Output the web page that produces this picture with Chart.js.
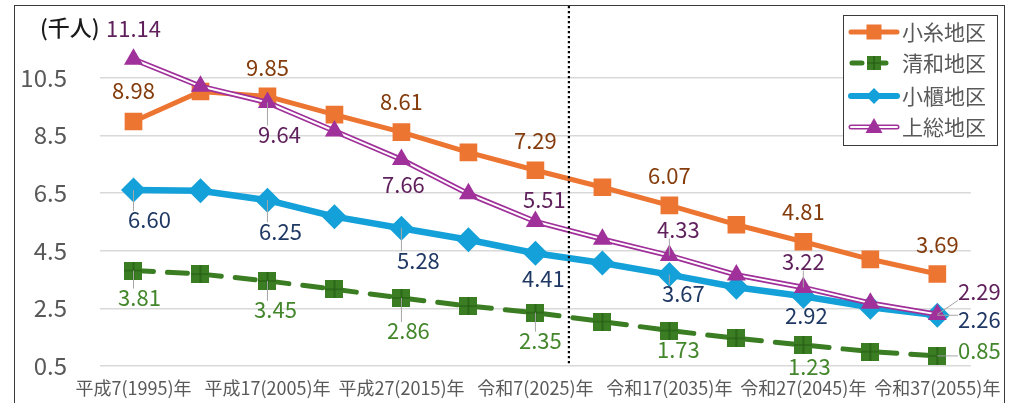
<!DOCTYPE html>
<html><head><meta charset="utf-8">
<script src="https://cdn.jsdelivr.net/npm/chart.js@4/dist/chart.umd.min.js"></script>
<style>
html,body{margin:0;padding:0;background:#fff;overflow:hidden}
#wrap{position:absolute;left:0;top:0;width:1013px;height:403px}
</style></head><body>
<div id="wrap"><canvas id="c" width="1013" height="403"></canvas></div>
<script>
// ---- data ----
const categories = ['平成7(1995)年','平成12(2000)年','平成17(2005)年','平成22(2010)年','平成27(2015)年','令和2(2020)年','令和7(2025)年','令和12(2030)年','令和17(2035)年','令和22(2040)年','令和27(2045)年','令和32(2050)年','令和37(2055)年'];
const seriesNames = ['小糸地区','清和地区','小櫃地区','上総地区'];
const koito  = [8.98, 10.02, 9.85, 9.22, 8.61, 7.91, 7.29, 6.70, 6.07, 5.40, 4.81, 4.20, 3.69];
const seiwa  = [3.81, 3.69, 3.45, 3.16, 2.86, 2.58, 2.35, 2.04, 1.73, 1.46, 1.23, 1.00, 0.85];
const obitsu = [6.60, 6.58, 6.25, 5.68, 5.28, 4.88, 4.41, 4.07, 3.67, 3.23, 2.92, 2.54, 2.26];
const kazusa = [11.14, 10.20, 9.64, 8.65, 7.66, 6.47, 5.51, 4.90, 4.33, 3.66, 3.22, 2.68, 2.29];
const yTicks = [0.5, 2.5, 4.5, 6.5, 8.5, 10.5];
const labelledIdx = [0, 2, 4, 6, 8, 10, 12];
const unitLabel = '(千人)';

// ---- styles ----
const FONT = '"Noto Sans CJK JP", "Noto Sans", sans-serif';
const ORANGE = '#ED7532', GREEN = '#3A7D22', BLUE = '#14A0D8', PURPLE = '#A0309A';
Chart.defaults.font.family = FONT;

function makeGreenSquare(s){
  const c = document.createElement('canvas'); c.width = s; c.height = s;
  const g = c.getContext('2d');
  g.fillStyle = GREEN; g.fillRect(0,0,s,s);
  g.strokeStyle = '#255A14'; g.lineWidth = 1.2;
  g.beginPath(); g.moveTo(s/2,0); g.lineTo(s/2,s); g.moveTo(0,s/2); g.lineTo(s,s/2); g.stroke();
  return c;
}
const greenSq = makeGreenSquare(18);
const greenSqSmall = makeGreenSquare(14);

// label layout (offsets from point, px) — styling only
const labelStyles = [
  {data: koito,  color:'#843C0C', offsets:[[0,-31],[0,-29],[0,-31],[0,-30],[0,-30],[0,-30],[0,-29]], leaders:[0,0,0,0,0,0,0]},
  {data: seiwa,  color:'#43862B', offsets:[[6,27],[8,29],[7,33],[5,28],[9,19],[6,22],[42,-5]],       leaders:[1,1,1,1,0,0,1]},
  {data: obitsu, color:'#1F3864', offsets:[[16,30],[13,31],[17,32],[8,25],[14,19],[3,19],[42,4]],    leaders:[1,1,1,0,1,0,1]},
  {data: kazusa, color:'#5E1F5B', offsets:[[0,-31],[12,32],[2,25],[9,-22],[9,-26],[0,-26],[42,-23]], leaders:[0,1,0,0,1,1,1]},
];

const plugin = {
  id: 'deco',
  beforeDraw(chart){
    const ctx = chart.ctx;
    ctx.save();
    ctx.fillStyle = '#fff'; ctx.fillRect(0,0,chart.width,chart.height);
    ctx.strokeStyle = '#3a3a3a'; ctx.lineWidth = 1;
    ctx.strokeRect(14.5, 5.5, 990, 420);
    ctx.restore();
  },
  afterDatasetsDraw(chart){
    const ctx = chart.ctx, xs = chart.scales.x, ys = chart.scales.y;
    // dotted divider between 2025 and 2030
    const xd = (xs.getPixelForValue(6) + xs.getPixelForValue(7)) / 2;
    ctx.save();
    ctx.strokeStyle = '#000'; ctx.lineWidth = 2.2; ctx.setLineDash([2.2, 2.8]);
    ctx.beginPath(); ctx.moveTo(xd, 6); ctx.lineTo(xd, chart.chartArea.bottom - 2); ctx.stroke();
    ctx.restore();
    // data labels
    ctx.save();
    ctx.font = '22px ' + FONT;
    ctx.textAlign = 'center'; ctx.textBaseline = 'middle';
    labelStyles.forEach(st => {
      labelledIdx.forEach((idx, k) => {
        const v = st.data[idx];
        const px = xs.getPixelForValue(idx), py = ys.getPixelForValue(v);
        const tx = px + st.offsets[k][0], ty = py + st.offsets[k][1];
        const txt = v.toFixed(2);
        if (st.leaders[k]) {
          const w = ctx.measureText(txt).width, h = 18;
          const cx = Math.min(Math.max(px, tx - w/2), tx + w/2);
          const cy = Math.min(Math.max(py, ty - h/2), ty + h/2);
          ctx.strokeStyle = '#A6A6A6'; ctx.lineWidth = 1;
          ctx.beginPath(); ctx.moveTo(px, py); ctx.lineTo(cx, cy); ctx.stroke();
        }
        ctx.fillStyle = st.color;
        ctx.fillText(txt, tx, ty);
      });
    });
    // unit label
    ctx.fillStyle = '#1a1a1a'; ctx.textAlign = 'left';
    ctx.font = '500 22px ' + FONT;
    ctx.fillText(unitLabel, 40, 28);
    ctx.restore();
  },
  afterDraw(chart){
    const ctx = chart.ctx;
    ctx.save();
    const bx = 843, by = 15, bw = 154, bh = 130;
    ctx.fillStyle = '#fff'; ctx.fillRect(bx, by, bw, bh);
    ctx.strokeStyle = '#3a3a3a'; ctx.lineWidth = 1; ctx.strokeRect(bx + 0.5, by + 0.5, bw, bh);
    const rows = [32, 63, 96, 127];
    const x0 = 849, x1 = 899, xm = 874;
    rows.forEach((y, i) => {
      ctx.save();
      ctx.lineCap = 'round';
      if (i === 0) {
        ctx.strokeStyle = ORANGE; ctx.lineWidth = 5;
        ctx.beginPath(); ctx.moveTo(x0 + 2, y); ctx.lineTo(x1 - 2, y); ctx.stroke();
        ctx.fillStyle = ORANGE; ctx.fillRect(xm - 7.5, y - 7.5, 15, 15);
      } else if (i === 1) {
        ctx.strokeStyle = GREEN; ctx.lineWidth = 5; ctx.setLineDash([10, 14]);
        ctx.beginPath(); ctx.moveTo(x0 + 3, y); ctx.lineTo(x1, y); ctx.stroke();
        ctx.setLineDash([]);
        ctx.drawImage(greenSqSmall, xm - 7, y - 7);
      } else if (i === 2) {
        ctx.strokeStyle = BLUE; ctx.lineWidth = 6;
        ctx.beginPath(); ctx.moveTo(x0 + 2, y); ctx.lineTo(x1 - 2, y); ctx.stroke();
        ctx.fillStyle = BLUE; ctx.beginPath();
        ctx.moveTo(xm - 8, y); ctx.lineTo(xm, y - 8); ctx.lineTo(xm + 8, y); ctx.lineTo(xm, y + 8); ctx.closePath(); ctx.fill();
      } else {
        ctx.strokeStyle = PURPLE; ctx.lineWidth = 5;
        ctx.beginPath(); ctx.moveTo(x0 + 2, y); ctx.lineTo(x1 - 2, y); ctx.stroke();
        ctx.strokeStyle = '#fff'; ctx.lineWidth = 2;
        ctx.beginPath(); ctx.moveTo(x0 + 2, y); ctx.lineTo(x1 - 2, y); ctx.stroke();
        ctx.fillStyle = PURPLE; ctx.beginPath();
        ctx.moveTo(xm, y - 9); ctx.lineTo(xm + 8.5, y + 6); ctx.lineTo(xm - 8.5, y + 6); ctx.closePath(); ctx.fill();
      }
      ctx.restore();
      ctx.fillStyle = '#595959'; ctx.font = '21px ' + FONT;
      ctx.textAlign = 'left'; ctx.textBaseline = 'middle';
      ctx.fillText(seriesNames[i], 902, y);
    });
    ctx.restore();
  }
};

const common = {tension: 0, fill: false, borderJoinStyle: 'round', pointBorderWidth: 0, pointHoverRadius: 0};
new Chart(document.getElementById('c'), {
  type: 'line',
  data: {
    labels: categories,
    datasets: [
      Object.assign({}, common, {label: seriesNames[3], data: kazusa, showLine: false, pointStyle: 'triangle', pointRadius: 11, pointBackgroundColor: PURPLE, pointBorderColor: PURPLE, order: 1}),
      Object.assign({}, common, {label: seriesNames[3] + ' inner', data: kazusa, borderColor: '#fff', borderWidth: 2, pointRadius: 0, order: 2}),
      Object.assign({}, common, {label: seriesNames[3] + ' outer', data: kazusa, borderColor: PURPLE, borderWidth: 5.5, pointRadius: 0, order: 3}),
      Object.assign({}, common, {label: seriesNames[0], data: koito, borderColor: ORANGE, borderWidth: 5, pointStyle: 'rect', pointRadius: 12.5, pointBackgroundColor: ORANGE, pointBorderColor: ORANGE, order: 4}),
      Object.assign({}, common, {label: seriesNames[2], data: obitsu, borderColor: BLUE, borderWidth: 6.5, pointStyle: 'rectRot', pointRadius: 12.5, pointBackgroundColor: BLUE, pointBorderColor: BLUE, order: 5}),
      Object.assign({}, common, {label: seriesNames[1], data: seiwa, borderColor: GREEN, borderWidth: 5, borderDash: [20, 14], borderCapStyle: 'round', pointStyle: greenSq, pointRadius: 9, order: 6}),
    ]
  },
  options: {
    responsive: false, animation: false,
    layout: {padding: {top: 20, right: 42, left: 0, bottom: 0}},
    plugins: {legend: {display: false}, tooltip: {enabled: false}},
    events: [],
    scales: {
      x: {
        type: 'category', offset: true,
        grid: {display: false, drawTicks: false}, border: {display: false},
        ticks: {autoSkip: false, maxRotation: 0, minRotation: 0, color: '#595959', font: {size: 18}, padding: 11,
                callback: (v, i) => (i % 2 === 0 ? categories[i] : '')},
        afterFit: s => { s.height = 37; }
      },
      y: {
        min: 0.5, max: 12.5,
        afterBuildTicks: s => { s.ticks = yTicks.map(v => ({value: v})); },
        grid: {color: '#D9D9D9', lineWidth: 1.5, drawTicks: true, tickLength: 33, tickColor: 'rgba(0,0,0,0)'},
        border: {display: false},
        ticks: {color: '#595959', font: {size: 24}, padding: 0, callback: v => Number(v).toFixed(1)},
        afterFit: s => { s.width = 100; }
      }
    }
  },
  plugins: [plugin]
});
</script>
</body></html>
